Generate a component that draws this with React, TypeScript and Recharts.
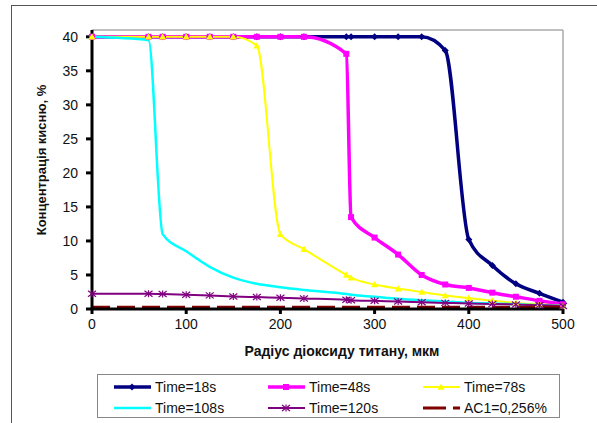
import React from 'react';
import { LineChart, Line, XAxis, YAxis, ReferenceLine } from 'recharts';

// radius points (мкм) where the model was evaluated
const radius = [0, 60, 75, 100, 125, 150, 175, 200, 225, 270, 275, 300, 325, 350, 375, 400, 425, 450, 475, 500];

// oxygen concentration, %
const time18 = [40, 40, 40, 40, 40, 40, 40, 40, 40, 40, 40, 40, 40, 40, 38, 10.2, 6.4, 3.7, 2.3, 1.0];
const time48 = [40, 40, 40, 40, 40, 40, 40, 40, 40, 37.5, 13.5, 10.5, 8, 5, 3.6, 3.1, 2.4, 1.8, 1.2, 0.7];
const time78 = [40, 40, 40, 40, 40, 40, 38.7, 11, 8.8, 5, 4.6, 3.6, 3.0, 2.5, 2.0, 1.6, 1.2, 0.9, 0.7, 0.5];
const time108 = [40, 39.5, 11, 8.5, 6.2, 4.6, 3.7, 3.2, 2.8, 2.2, 2.1, 1.8, 1.5, 1.3, 1.1, 0.9, 0.8, 0.7, 0.55, 0.45];
const time120 = [2.25, 2.25, 2.2, 2.1, 2.0, 1.85, 1.75, 1.65, 1.55, 1.35, 1.3, 1.2, 1.1, 1.0, 0.9, 0.8, 0.75, 0.65, 0.55, 0.45];
const ac1 = radius.map(() => 0.256);

const xTicks = [0, 100, 200, 300, 400, 500];
const yTicks = [0, 5, 10, 15, 20, 25, 30, 35, 40];

const data = radius.map((r, i) => ({
  r,
  t18: time18[i],
  t48: time48[i],
  t78: time78[i],
  t108: time108[i],
  t120: time120[i],
  ac1: ac1[i],
}));

const FONT = '"Liberation Sans", Arial, sans-serif';

type Marker = 'diamond' | 'square' | 'triangle' | 'star' | 'none';

const MarkerShape = ({ kind, cx, cy, color }: { kind: Marker; cx: number; cy: number; color: string }) => {
  if (kind === 'diamond') {
    const s = 3.5;
    return <path d={`M${cx},${cy - s}L${cx + s},${cy}L${cx},${cy + s}L${cx - s},${cy}Z`} fill={color} />;
  }
  if (kind === 'square') {
    return <rect x={cx - 3} y={cy - 3} width={6} height={6} fill={color} />;
  }
  if (kind === 'triangle') {
    const s = 3.5;
    return <path d={`M${cx},${cy - s}L${cx + s},${cy + s * 0.8}L${cx - s},${cy + s * 0.8}Z`} fill={color} />;
  }
  if (kind === 'star') {
    return (
      <g stroke={color} strokeWidth={1.2}>
        <line x1={cx - 4} y1={cy - 3} x2={cx + 4} y2={cy + 3} />
        <line x1={cx - 4} y1={cy + 3} x2={cx + 4} y2={cy - 3} />
        <line x1={cx} y1={cy - 3.5} x2={cx} y2={cy + 3.5} />
      </g>
    );
  }
  return null;
};

const makeDot = (kind: Marker, color: string) => (props: any) => {
  const { cx, cy, index } = props;
  if (cx == null || cy == null) return <g key={index} />;
  return (
    <g key={index}>
      <MarkerShape kind={kind} cx={cx} cy={cy} color={color} />
    </g>
  );
};

const series = [
  { key: 't18', name: 'Time=18s', color: '#000080', width: 3.5, marker: 'diamond' as Marker },
  { key: 't48', name: 'Time=48s', color: '#FF00FF', width: 3.5, marker: 'square' as Marker },
  { key: 't78', name: 'Time=78s', color: '#FFFF00', width: 2, marker: 'triangle' as Marker },
  { key: 't108', name: 'Time=108s', color: '#00FFFF', width: 2.5, marker: 'none' as Marker },
  { key: 't120', name: 'Time=120s', color: '#800080', width: 2, marker: 'star' as Marker },
  { key: 'ac1', name: 'AC1=0,256%', color: '#800000', width: 3, marker: 'none' as Marker, dash: '18 7' },
];

const LegendBox = () => {
  const cols = [16, 170, 325];
  const rows = [12, 33];
  return (
    <svg width={463} height={44} style={{ position: 'absolute', left: 97, top: 374, border: '1px solid #888', boxSizing: 'border-box' }}>
      {series.map((s, i) => {
        const x = cols[i % 3];
        const y = rows[Math.floor(i / 3)];
        return (
          <g key={s.key}>
            <line x1={x} y1={y} x2={x + 37} y2={y} stroke={s.color} strokeWidth={s.width} strokeDasharray={s.dash ? '23 7' : undefined} />
            <MarkerShape kind={s.marker} cx={x + 18} cy={y} color={s.color} />
            <text x={x + 41} y={y} dominantBaseline="central" fontFamily={FONT} fontSize={14} fill="#111">
              {s.name}
            </text>
          </g>
        );
      })}
    </svg>
  );
};

export default function App() {
  return (
    <div style={{ position: 'absolute', left: 0, top: 0, width: 597, height: 423, background: '#fff', overflow: 'hidden', fontFamily: FONT }}>
      <div style={{ position: 'absolute', left: 11, top: 5, right: 0, bottom: 0, borderTop: '1.5px solid #555', borderLeft: '1.5px solid #555' }} />
      <div style={{ position: 'absolute', left: 0, top: 0 }}>
        <LineChart width={597} height={423} data={data} margin={{ top: 30, right: 34, bottom: 64, left: 0 }}>
          <ReferenceLine y={41} stroke="#aaa" strokeWidth={1.5} />
          <ReferenceLine x={500} stroke="#aaa" strokeWidth={1.5} />
          <XAxis
            dataKey="r"
            type="number"
            domain={[0, 500]}
            ticks={xTicks}
            height={50}
            axisLine={{ stroke: '#000', strokeWidth: 3 }}
            tickLine={{ stroke: '#000', strokeWidth: 3 }}
            tickSize={5}
            tickMargin={5}
            tick={{ fill: '#111', fontSize: 14, fontFamily: FONT }}
          />
          <YAxis
            type="number"
            domain={[0, 41]}
            ticks={yTicks}
            width={92}
            axisLine={{ stroke: '#000', strokeWidth: 3 }}
            tickLine={{ stroke: '#000', strokeWidth: 3 }}
            tickSize={6}
            tickMargin={8}
            tick={{ fill: '#111', fontSize: 14, fontFamily: FONT }}
          />
          {series.map(s => (
            <Line
              key={s.key}
              dataKey={s.key}
              name={s.name}
              type="monotone"
              stroke={s.color}
              strokeWidth={s.width}
              strokeDasharray={s.dash}
              dot={s.marker === 'none' ? false : makeDot(s.marker, s.color)}
              activeDot={false}
              isAnimationActive={false}
            />
          ))}
        </LineChart>
      </div>
      <div style={{ position: 'absolute', left: 41, top: 160, transform: 'translate(-50%, -50%) rotate(-90deg)', whiteSpace: 'nowrap', fontWeight: 'bold', fontSize: 13, color: '#111' }}>
        Концентрація кисню, %
      </div>
      <div style={{ position: 'absolute', left: 342, top: 351, transform: 'translate(-50%, -50%)', whiteSpace: 'nowrap', fontWeight: 'bold', fontSize: 14, color: '#111' }}>
        Радіус діоксиду титану, мкм
      </div>
      <LegendBox />
    </div>
  );
}
